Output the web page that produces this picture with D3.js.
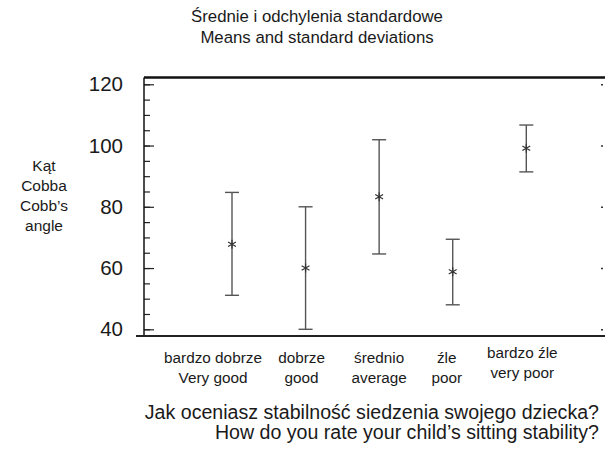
<html>
<head>
    <meta charset="UTF-8">
    <title>Means and standard deviations</title>
    <script src="https://d3js.org/d3.v7.min.js"></script>
    <style>
        body { margin: 0; background: #fff; }
        text { font-family: "Liberation Sans", Arial, sans-serif; fill: #1a1a1a; }
    </style>
</head>
<body>
    <svg width="605" height="454"></svg>
    <script>
        // dane
        var categoriesPl = ['bardzo dobrze', 'dobrze', 'średnio', 'źle', 'bardzo źle'];
        var categoriesEn = ['Very good', 'good', 'average', 'poor', 'very poor'];
        var means = [67.8, 60.0, 83.3, 58.8, 99.1];
        var upper = [84.7, 80.0, 101.9, 69.4, 106.7];
        var lower = [51.1, 40.0, 64.6, 48.0, 91.4];
        var yTicks = [40, 60, 80, 100, 120];

        var svg = d3.select('svg');
        var plotLeft = 144, plotRight = 603, plotTop = 77.5, plotBottom = 336;

        var x = d3.scaleLinear().domain([1, 5]).range([232, 526.3]);
        var y = d3.scaleLinear().domain([40, 120]).range([329.3, 84.3]);

        // podpisy osi X nie sa dokladnie pod punktami
        var labelShift = [-19, -4, 0, -6, -4];
        var labelRaise = [0, 0, 0, 0, -5];

        // titles
        var title = svg.append('text').attr('text-anchor', 'middle').style('font-size', '16.8px');
        title.append('tspan').attr('x', 317).attr('y', 22).text('Średnie i odchylenia standardowe');
        title.append('tspan').attr('x', 317).attr('y', 43).text('Means and standard deviations');

        // left axis with minor ticks inside
        svg.append('g')
            .attr('transform', 'translate(' + plotLeft + ',0)')
            .call(d3.axisRight(y).tickValues(d3.range(40, 121, 5)).tickSize(6).tickFormat(''))
            .call(g => g.select('.domain').remove())
            .selectAll('line').attr('stroke', '#222').attr('stroke-width', 1.2);
        svg.append('g')
            .attr('transform', 'translate(' + plotLeft + ',0)')
            .call(d3.axisRight(y).tickValues(yTicks).tickSize(10).tickFormat(''))
            .call(g => g.select('.domain').remove())
            .selectAll('line').attr('stroke', '#222').attr('stroke-width', 1.2);
        svg.append('g')
            .selectAll('text').data(yTicks).enter().append('text')
            .attr('x', plotLeft - 21).attr('y', d => y(d) + 7)
            .attr('text-anchor', 'end')
            .style('font-size', '20.5px')
            .text(d => d);

        // right side small ticks
        svg.append('g')
            .attr('transform', 'translate(' + plotRight + ',0)')
            .call(d3.axisLeft(y).tickValues(yTicks).tickSize(2).tickFormat(''))
            .call(g => g.select('.domain').remove())
            .selectAll('line').attr('stroke', '#333').attr('stroke-width', 1.5);

        // frame
        svg.append('line').attr('x1', plotLeft).attr('x2', 605).attr('y1', plotTop).attr('y2', plotTop)
            .attr('stroke', '#111').attr('stroke-width', 2.5);
        svg.append('line').attr('x1', plotLeft).attr('x2', plotLeft).attr('y1', plotTop).attr('y2', plotBottom)
            .attr('stroke', '#111').attr('stroke-width', 1.5);
        svg.append('line').attr('x1', 136).attr('x2', 605).attr('y1', plotBottom).attr('y2', plotBottom)
            .attr('stroke', '#222').attr('stroke-width', 1.8);

        // y title
        var yt = svg.append('text').attr('text-anchor', 'middle').style('font-size', '15.5px');
        ['Kąt', 'Cobba', 'Cobb’s', 'angle'].forEach(function(t, i) {
            yt.append('tspan').attr('x', 44).attr('y', 171 + i * 20).text(t);
        });

        // error bars
        var bars = svg.append('g').selectAll('g').data(means).enter().append('g');
        bars.append('line')
            .attr('x1', (d, i) => x(i + 1)).attr('x2', (d, i) => x(i + 1))
            .attr('y1', (d, i) => y(upper[i])).attr('y2', (d, i) => y(lower[i]))
            .attr('stroke', '#555').attr('stroke-width', 1.4);
        bars.append('line')
            .attr('x1', (d, i) => x(i + 1) - 7).attr('x2', (d, i) => x(i + 1) + 7)
            .attr('y1', (d, i) => y(upper[i])).attr('y2', (d, i) => y(upper[i]))
            .attr('stroke', '#555').attr('stroke-width', 1.4);
        bars.append('line')
            .attr('x1', (d, i) => x(i + 1) - 7).attr('x2', (d, i) => x(i + 1) + 7)
            .attr('y1', (d, i) => y(lower[i])).attr('y2', (d, i) => y(lower[i]))
            .attr('stroke', '#555').attr('stroke-width', 1.4);

        // asterisk markers
        var r = 4.5;
        var star = 'M0,' + (-r) + 'L0,' + r +
            'M' + (-r * 0.87) + ',' + (-r * 0.5) + 'L' + (r * 0.87) + ',' + (r * 0.5) +
            'M' + (-r * 0.87) + ',' + (r * 0.5) + 'L' + (r * 0.87) + ',' + (-r * 0.5);
        bars.append('path')
            .attr('transform', (d, i) => 'translate(' + x(i + 1) + ',' + y(d) + ')')
            .attr('d', star)
            .attr('stroke', '#333').attr('stroke-width', 1.2).attr('fill', 'none');

        // category labels
        var lab = svg.append('g').selectAll('text').data(categoriesPl).enter().append('text')
            .attr('text-anchor', 'middle').style('font-size', '15.3px');
        lab.append('tspan')
            .attr('x', (d, i) => x(i + 1) + labelShift[i]).attr('y', (d, i) => 363 + labelRaise[i])
            .text(d => d);
        lab.append('tspan')
            .attr('x', (d, i) => x(i + 1) + labelShift[i]).attr('y', (d, i) => 383 + labelRaise[i])
            .text((d, i) => categoriesEn[i]);

        // bottom title, right aligned
        var xt = svg.append('text').attr('text-anchor', 'end').style('font-size', '19.6px');
        xt.append('tspan').attr('x', 599).attr('y', 419).text('Jak oceniasz stabilność siedzenia swojego dziecka?');
        xt.append('tspan').attr('x', 599).attr('y', 439).text('How do you rate your child’s sitting stability?');
    </script>
</body>
</html>
